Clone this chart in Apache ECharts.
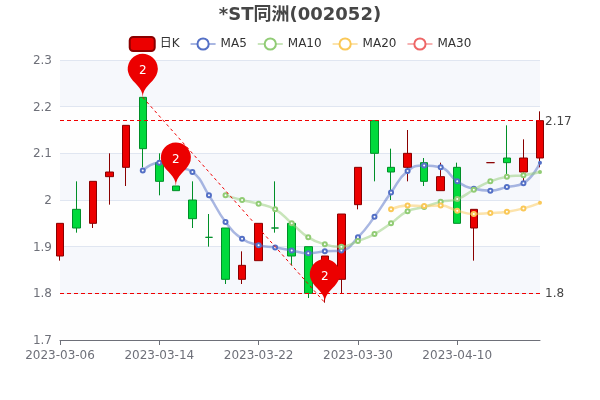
<!DOCTYPE html>
<html>
<head>
<meta charset="utf-8">
<style>
  html, body { margin: 0; padding: 0; background: #fff; }
  #main { width: 600px; height: 400px; }
</style>
<script src="https://cdn.jsdelivr.net/npm/echarts@6/dist/echarts.min.js"></script>
</head>
<body>
<div id="main"></div>
<script>
const dates = [
  '2023-03-06', '2023-03-07', '2023-03-08', '2023-03-09', '2023-03-10',
  '2023-03-13', '2023-03-14', '2023-03-15', '2023-03-16', '2023-03-17',
  '2023-03-20', '2023-03-21', '2023-03-22', '2023-03-23', '2023-03-24',
  '2023-03-27', '2023-03-28', '2023-03-29', '2023-03-30', '2023-03-31',
  '2023-04-03', '2023-04-04', '2023-04-06', '2023-04-07', '2023-04-10',
  '2023-04-11', '2023-04-12', '2023-04-13', '2023-04-14', '2023-04-17'
]
// open, close, low, high
const candles = [
  [1.88, 1.95, 1.87, 1.95], [1.98, 1.94, 1.93, 2.04], [1.95, 2.04, 1.94, 2.04],
  [2.05, 2.06, 1.99, 2.10], [2.07, 2.16, 2.03, 2.16], [2.22, 2.11, 2.07, 2.22],
  [2.08, 2.04, 2.01, 2.10], [2.03, 2.02, 2.02, 2.03], [2.00, 1.96, 1.94, 2.04],
  [1.92, 1.92, 1.90, 1.97], [1.94, 1.83, 1.82, 1.94], [1.83, 1.86, 1.82, 1.89],
  [1.87, 1.95, 1.87, 1.95], [1.94, 1.94, 1.93, 2.04], [1.95, 1.88, 1.86, 1.95],
  [1.90, 1.80, 1.79, 1.90], [1.83, 1.88, 1.78, 1.88], [1.83, 1.97, 1.80, 1.97],
  [1.99, 2.07, 1.98, 2.07], [2.17, 2.10, 2.04, 2.17], [2.07, 2.06, 2.00, 2.11],
  [2.07, 2.10, 2.04, 2.15], [2.08, 2.04, 2.03, 2.09], [2.02, 2.05, 2.02, 2.08],
  [2.07, 1.95, 1.95, 2.08], [1.94, 1.98, 1.87, 1.98], [2.08, 2.08, 2.08, 2.08],
  [2.09, 2.08, 2.05, 2.16], [2.06, 2.09, 2.03, 2.13], [2.09, 2.17, 2.07, 2.19]
]
const ma5 = ['-', '-', '-', '-', '-', 2.063, 2.08, 2.07, 2.06, 2.01, 1.953, 1.917, 1.903, 1.898, 1.892,
  1.886, 1.89, 1.892, 1.92, 1.964, 2.016, 2.062, 2.074, 2.07, 2.04, 2.024, 2.02, 2.028, 2.036, 2.08]
const ma10 = ['-', '-', '-', '-', '-', '-', '-', '-', '-', '-', 2.01, 2.0, 1.992, 1.98, 1.95,
  1.92, 1.905, 1.90, 1.912, 1.927, 1.95, 1.976, 1.985, 1.996, 2.002, 2.022, 2.04, 2.05, 2.053, 2.06]
const ma20 = ['-', '-', '-', '-', '-', '-', '-', '-', '-', '-', '-', '-', '-', '-', '-',
  '-', '-', '-', '-', '-', 1.98, 1.988, 1.987, 1.988, 1.977, 1.97, 1.972, 1.975, 1.982, 1.994]
const ma30 = []
const highestIdx = 5
const highPinIdx = 7
const lowestIdx = 16
const highestVal = 2.22
const highPinVal = 2.03
const lowestVal = 1.78
const closeMax = 2.17
const closeMin = 1.8

const font = '"DejaVu Sans", "Noto Sans CJK SC", sans-serif'
const upColor = '#ec0000'
const upBorder = '#8A0000'
const downColor = '#00da3c'
const downBorder = '#008F28'

function maSeries (name, data, color) {
  return {
    name: name,
    type: 'line',
    data: data,
    smooth: true,
    showSymbol: true,
    // the last point sits on the grid edge and looks smaller in the reference
    symbolSize: function (val, params) {
      return params.dataIndex === dates.length - 1 ? 2 : 4
    },
    itemStyle: { color: color },
    lineStyle: { width: 2.5, color: color, opacity: 0.5 },
    z: 3
  }
}

let myChart = echarts.init(document.getElementById('main'), null, { renderer: 'canvas' })
myChart.setOption({
  animation: false,
  textStyle: { fontFamily: font },
  title: {
    text: '*ST同洲(002052)',
    left: 'center',
    top: 1,
    textStyle: { fontSize: 18, fontWeight: 'bold', color: '#464646', fontFamily: font }
  },
  legend: {
    top: 31,
    left: 'center',
    itemGap: 10,
    textStyle: { color: '#333', fontSize: 12, fontFamily: font },
    data: [
      { name: '日K', itemStyle: { borderWidth: 2 } },
      'MA5', 'MA10', 'MA20', 'MA30'
    ]
  },
  grid: { left: 60, right: 60, top: 60, bottom: 60 },
  xAxis: {
    type: 'category',
    data: dates,
    boundaryGap: false,
    axisLine: { lineStyle: { color: '#6E7079' } },
    axisTick: { show: true, alignWithLabel: true, interval: 5, length: 5, lineStyle: { color: '#6E7079' } },
    axisLabel: { interval: 5, color: '#6E7079', fontSize: 12, margin: 10, hideOverlap: false, fontFamily: font },
    splitLine: { show: false }
  },
  yAxis: {
    type: 'value',
    min: 1.7,
    max: 2.3,
    interval: 0.1,
    axisLine: { show: false },
    axisTick: { show: false },
    axisLabel: { color: '#6E7079', fontSize: 12, verticalAlign: 'top', padding: [-5, 0, 0, 0], fontFamily: font },
    splitLine: { show: true, lineStyle: { color: '#E0E6F1' } },
    splitArea: { show: true, areaStyle: { color: ['rgba(250,250,250,0.2)', 'rgba(210,219,238,0.2)'] } }
  },
  series: [
    {
      name: '日K',
      type: 'candlestick',
      data: candles,
      barWidth: 8,
      clip: false,
      itemStyle: {
        color: upColor,
        color0: downColor,
        borderColor: upBorder,
        borderColor0: downBorder,
        borderWidth: 1
      },
      markPoint: {
        symbol: 'pin',
        symbolSize: 50,
        itemStyle: { color: upColor },
        label: {
          color: '#fff',
          fontSize: 12,
          fontFamily: font,
          formatter: function (p) { return Math.round(p.value) }
        },
        data: [
          { coord: [highestIdx, highestVal], value: highestVal },
          { coord: [highPinIdx, highPinVal], value: highPinVal },
          { coord: [lowestIdx, lowestVal], value: lowestVal }
        ]
      },
      markLine: {
        symbol: ['none', 'none'],
        silent: true,
        lineStyle: { color: '#f00000', type: [4, 3], width: 1.2 },
        label: { position: 'end', color: '#464646', fontSize: 12, verticalAlign: 'top', padding: [-5, 0, 0, 0], fontFamily: font },
        data: [
          { yAxis: closeMax, name: 'max' },
          { yAxis: closeMin, name: 'min' },
          [
            {
              coord: [highestIdx, highestVal],
              label: { show: false },
              lineStyle: { color: '#f00000', type: [3, 3], width: 1 }
            },
            { coord: [lowestIdx, lowestVal] }
          ]
        ]
      }
    },
    maSeries('MA5', ma5, '#5470c6'),
    maSeries('MA10', ma10, '#91cc75'),
    maSeries('MA20', ma20, '#fac858'),
    maSeries('MA30', ma30, '#ee6666')
  ]
})
</script>
</body>
</html>
